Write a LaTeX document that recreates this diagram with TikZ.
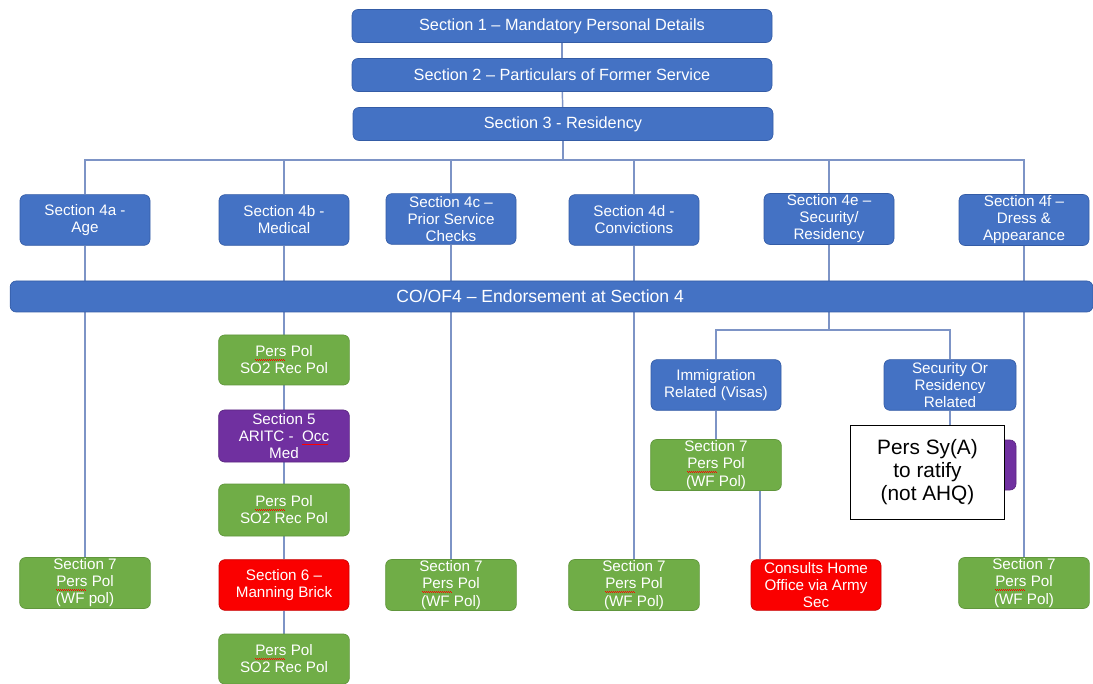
\documentclass[tikz,border=0pt]{standalone}
\usepackage{fontspec}
\setmainfont{Liberation Sans}
\usetikzlibrary{positioning}
\usetikzlibrary{backgrounds}

\definecolor{secblue}{RGB}{68,114,196}
\definecolor{secblueline}{RGB}{52,92,166}
\definecolor{polgreen}{RGB}{112,173,71}
\definecolor{polgreenline}{RGB}{96,150,60}
\definecolor{medpurple}{RGB}{112,48,160}
\definecolor{brickred}{RGB}{250,0,0}
\definecolor{linkblue}{RGB}{125,148,198}

% red spell-check wave under a word
\newsavebox{\wavebox}
\newcommand{\spellwave}[1]{\sbox{\wavebox}{#1}\smash{\rlap{\color{red}\leaders
  \hbox{\rule[-2.2pt]{0.75pt}{0.45pt}\rule[-2.7pt]{0.75pt}{0.45pt}}\hskip\wd\wavebox}}%
  \usebox{\wavebox}}

\tikzset{
  box/.style={rounded corners=4.5pt, align=center, inner sep=1pt, text=white,
    line width=0.5pt, font=\fontsize{11.4}{12.8}\selectfont},
  topblock/.style={box, fill=secblue, draw=secblueline, minimum width=315pt,
    minimum height=24.75pt, font=\fontsize{12.2}{14}\selectfont},
  blueblock/.style={box, fill=secblue, draw=secblueline, minimum width=97.5pt,
    minimum height=38pt},
  greenblock/.style={box, fill=polgreen, draw=polgreenline, minimum width=98pt,
    minimum height=37.5pt},
  purpleblock/.style={box, fill=medpurple, draw=medpurple!80!black,
    minimum width=98pt, minimum height=39pt},
  redblock/.style={box, fill=brickred, draw=brickred!80!black,
    minimum width=97.5pt, minimum height=38pt},
  noteblock/.style={draw=black, fill=white, line width=0.9pt, align=center,
    minimum width=116pt, minimum height=71pt, inner sep=1pt,
    font=\fontsize{15.6}{17.3}\selectfont},
  link/.style={draw=linkblue, line width=1.1pt}
}

\begin{document}
\begin{tikzpicture}[x=0.75pt,y=0.75pt,yscale=-1,xscale=1]
\useasboundingbox (0,0) rectangle (1093,684);

%Sections 1 to 3
\node [topblock] (s1) at (562,26) {Section 1 -- Mandatory Personal Details};
\node [topblock] (s2) at (562,75) {Section 2 -- Particulars of Former Service};
\node [topblock] (s3) at (563,124) {Section 3 - Residency};

%Section 4 row
\node [blueblock] (a4) at (85,220) {Section 4a -\\Age};
\node [blueblock] (b4) at (284,220) {Section 4b -\\Medical};
\node [blueblock] (c4) at (451,219) {Section 4c --\\Prior Service\\Checks};
\node [blueblock] (d4) at (634,220) {Section 4d -\\Convictions};
\node [blueblock] (e4) at (829,219) {Section 4e --\\Security/\\Residency};
\node [blueblock] (f4) at (1024,220) {Section 4f --\\Dress \&\\Appearance};

%Endorsement bar
\node [box, fill=secblue, draw=secblueline, minimum width=812pt,
  minimum height=23.25pt, font=\fontsize{13.2}{15}\selectfont]
  (bar) at (551.5,296.5) {CO/OF4 -- Endorsement at Section 4\hspace*{17pt}};

%Age
\node [greenblock] (ga) at (85,583) {Section 7\\\spellwave{Pers} Pol\\(WF pol)};

%Medical chain
\node [greenblock] (p1) at (284,360) {\spellwave{Pers} Pol\\SO2 Rec Pol};
\node [purpleblock] (s5) at (284,436) {Section 5\\ARITC -\ \ \spellwave{Occ}\\Med};
\node [greenblock, minimum height=39pt] (p2) at (284,510) {\spellwave{Pers} Pol\\SO2 Rec Pol};
\node [redblock] (s6) at (284,585) {Section 6 --\\Manning Brick};
\node [greenblock] (p3) at (284,659) {\spellwave{Pers} Pol\\SO2 Rec Pol};

%Prior service, convictions
\node [greenblock] (gc) at (451,585) {Section 7\\\spellwave{Pers} Pol\\(WF Pol)};
\node [greenblock] (gd) at (634,585) {Section 7\\\spellwave{Pers} Pol\\(WF Pol)};

%Security / residency split
\coordinate (split) at (829,330);
\node [blueblock] (imm) at (716,385) {Immigration\\Related (Visas)};
\node [blueblock, minimum width=99pt] (sry) at (950,385) {Security Or\\Residency\\Related};
\node [greenblock] (ge) at (716,465) {Section 7\\\spellwave{Pers} Pol\\(WF Pol)};
\node [redblock] (home) at (816,585) {Consults Home\\Office via Army\\Sec};
\node [purpleblock, minimum width=99pt, minimum height=37.5pt] (syp) at (950,465) {};
\node [noteblock] (note) at (927.5,472.5) {Pers Sy(A)\\to ratify\\(not AHQ)};

%Dress
\node [greenblock] (gf) at (1024,583) {Section 7\\\spellwave{Pers} Pol\\(WF Pol)};

\coordinate (bus) at (563,160);
\coordinate (homedrop) at ([xshift=33pt]ge.south);

\begin{pgfonlayer}{background}
\draw [link] (s1) -- (s2);
\draw [link] (s2) -- (s3);
\draw [link] (s3) -- (bus);
\draw [link] (a4) |- (bus) -| (f4);
\foreach \n in {b4,c4,d4,e4}
  \draw [link] (\n) -- (\n |- bus);
\draw [link] (a4) -- (ga);
\draw [link] (b4) -- (p1);
\draw [link] (p1) -- (s5);
\draw [link] (s5) -- (p2);
\draw [link] (p2) -- (s6);
\draw [link] (s6) -- (p3);
\draw [link] (c4) -- (gc);
\draw [link] (d4) -- (gd);
\draw [link] (e4) -- (split);
\draw [link] (imm) |- (split) -| (sry);
\draw [link] (imm) -- (ge);
\draw [link] (homedrop) -- (homedrop |- home.north);
\draw [link] (sry) -- (syp);
\draw [link] (f4) -- (gf);
\end{pgfonlayer}

\end{tikzpicture}
\end{document}
